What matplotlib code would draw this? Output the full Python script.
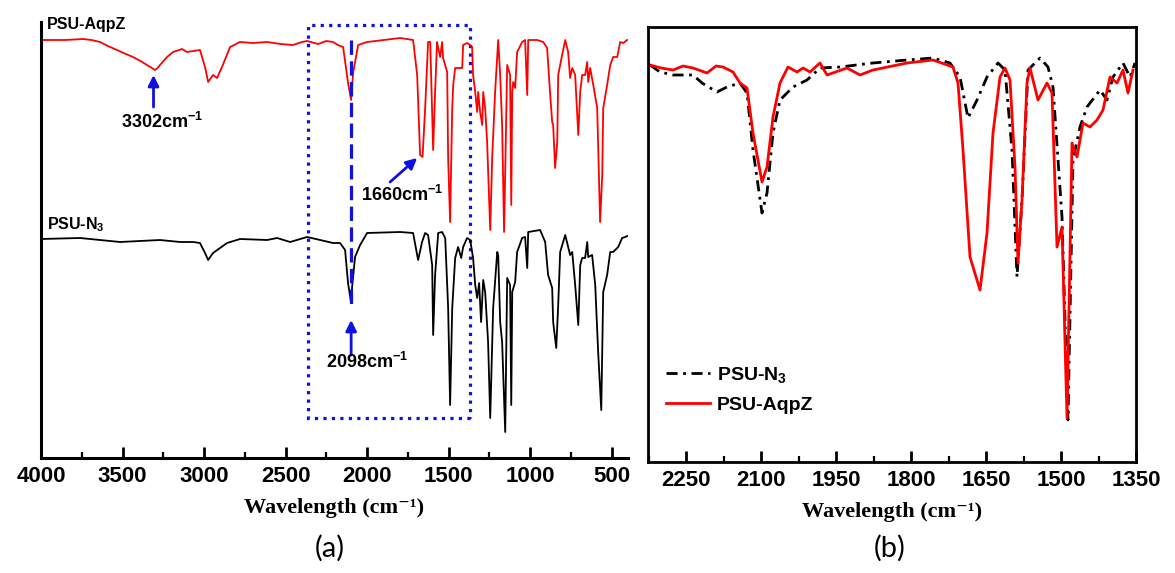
import matplotlib
matplotlib.use("Agg")
import matplotlib.pyplot as plt
from matplotlib.patches import Rectangle
from matplotlib.ticker import MultipleLocator

plt.rcParams['font.family'] = ['Liberation Sans', 'DejaVu Sans']
plt.rcParams['font.weight'] = 'bold'
plt.rcParams['mathtext.fontset'] = 'custom'
plt.rcParams['mathtext.rm'] = 'Liberation Sans:bold'
plt.rcParams['mathtext.bf'] = 'Liberation Sans:bold'
plt.rcParams['mathtext.it'] = 'Liberation Sans:bold:italic'

# ---- panel (a): full spectra, arbitrary transmittance units (AqpZ stacked above N3)
wn_aqpz_full = [4000, 3988, 3850, 3742, 3690, 3638, 3590, 3534, 3480, 3436, 3390, 3350, 3320, 3302, 3285,
                3270, 3227, 3190, 3135, 3104, 3025, 2994, 2975, 2945, 2920, 2890, 2840, 2780, 2700, 2613,
                2530, 2454, 2400, 2368, 2300, 2250, 2209, 2180, 2147, 2117, 2098, 2086, 2055, 2000, 1900,
                1797, 1718, 1693, 1675, 1660, 1644, 1626, 1613, 1595, 1583, 1571, 1564, 1552, 1540, 1534,
                1509, 1503, 1491, 1478, 1472, 1460, 1442, 1417, 1411, 1387, 1368, 1356, 1350, 1337, 1325,
                1319, 1307, 1294, 1288, 1276, 1264, 1245, 1233, 1215, 1196, 1184, 1172, 1160, 1141, 1123,
                1116, 1110, 1104, 1092, 1080, 1049, 1031, 1018, 1012, 957, 920, 896, 877, 865, 859,
                847, 834, 828, 804, 785, 767, 755, 742, 724, 705, 693, 681, 663, 650, 644,
                632, 613, 589, 571, 558, 552, 528, 509, 491, 466, 448, 429, 405]
t_aqpz_full = [418, 418, 418, 419, 418, 416, 412, 408, 404, 401, 397, 393, 390, 388, 390,
               393, 401, 406, 409, 406, 408, 391, 376, 383, 380, 391, 411, 416, 415, 416,
               414, 413, 416, 417, 414, 417, 416, 413, 411, 375, 358, 385, 413, 416, 418,
               420, 418, 383, 303, 301, 350, 416, 416, 308, 366, 416, 410, 401, 416, 400,
               386, 300, 236, 350, 373, 390, 390, 390, 413, 415, 413, 411, 383, 366, 346,
               366, 346, 333, 366, 350, 316, 228, 300, 366, 418, 383, 333, 226, 393, 383,
               253, 366, 376, 370, 406, 416, 418, 363, 418, 418, 416, 410, 363, 336, 333,
               290, 316, 383, 403, 418, 406, 380, 390, 383, 323, 366, 383, 383, 396, 376,
               390, 373, 350, 236, 283, 350, 373, 393, 401, 401, 416, 415, 418]

wn_n3_full = [4000, 3761, 3515, 3270, 3147, 3067, 3025, 2994, 2975, 2945, 2902, 2859, 2779, 2613, 2552,
              2472, 2368, 2288, 2209, 2166, 2135, 2117, 2098, 2092, 2074, 2043, 2000, 1797, 1718, 1693,
              1687, 1663, 1644, 1626, 1601, 1595, 1583, 1564, 1540, 1521, 1503, 1491, 1478, 1460, 1442,
              1423, 1411, 1387, 1368, 1350, 1337, 1325, 1313, 1301, 1288, 1276, 1258, 1245, 1227, 1202,
              1196, 1184, 1172, 1153, 1141, 1123, 1116, 1110, 1092, 1080, 1049, 1031, 1018, 1012, 939,
              908, 890, 865, 859, 840, 828, 816, 785, 755, 742, 724, 705, 693, 681, 663,
              650, 644, 620, 601, 583, 564, 552, 528, 509, 491, 460, 436, 417, 405]
t_n3_full = [219, 220, 216, 218, 216, 216, 215, 205, 198, 205, 210, 215, 219, 218, 220,
             216, 221, 218, 215, 215, 208, 175, 155, 171, 201, 213, 225, 226, 225, 203,
             198, 216, 225, 223, 193, 123, 183, 225, 226, 220, 150, 53, 150, 200, 211,
             200, 211, 220, 218, 200, 173, 160, 175, 136, 178, 166, 116, 40, 150, 206,
             203, 136, 116, 26, 180, 173, 53, 166, 176, 206, 220, 221, 190, 226, 228,
             216, 183, 170, 136, 110, 153, 206, 223, 203, 206, 173, 133, 193, 200, 200,
             216, 201, 203, 173, 106, 48, 166, 183, 206, 206, 211, 220, 221, 222]

# ---- panel (b): expanded 2325-1350 cm-1 region
wn_n3_zoom = [2322, 2302, 2276, 2236, 2218, 2188, 2168, 2142, 2128, 2116, 2098, 2088, 2076, 2062, 2036,
              2008, 1982, 1942, 1876, 1808, 1756, 1722, 1702, 1686, 1668, 1648, 1626, 1612, 1598, 1588,
              1578, 1566, 1542, 1526, 1516, 1498, 1486, 1476, 1462, 1448, 1422, 1408, 1396, 1376, 1362,
              1352]
t_n3_zoom = [397, 390, 387, 387, 379, 370, 375, 379, 369, 312, 249, 269, 329, 362, 375,
             382, 394, 395, 399, 402, 404, 399, 385, 344, 362, 385, 399, 392, 312, 185,
             262, 392, 404, 395, 375, 245, 42, 302, 335, 355, 372, 362, 385, 399, 385,
             399]

wn_aqpz_zoom = [2322, 2300, 2276, 2256, 2236, 2208, 2190, 2176, 2156, 2142, 2128, 2116, 2098, 2088, 2076,
                2062, 2046, 2028, 2016, 2002, 1982, 1968, 1928, 1902, 1876, 1808, 1756, 1716, 1706, 1696,
                1682, 1662, 1648, 1636, 1622, 1612, 1602, 1592, 1586, 1578, 1568, 1562, 1546, 1528, 1518,
                1508, 1498, 1488, 1478, 1468, 1456, 1442, 1428, 1416, 1402, 1388, 1376, 1366, 1356]
t_aqpz_zoom = [397, 394, 392, 396, 394, 389, 396, 395, 390, 379, 374, 329, 280, 295, 345,
               379, 395, 390, 394, 390, 399, 387, 394, 387, 392, 399, 402, 395, 379, 312,
               205, 172, 229, 329, 385, 394, 382, 295, 199, 262, 379, 394, 362, 379, 369,
               215, 235, 44, 319, 305, 339, 335, 342, 352, 385, 379, 392, 369, 392]

fig = plt.figure(figsize=(11.75, 5.73), dpi=100)

# ---------------- (a)
ax = fig.add_axes([41 / 1175, 115 / 573, 587 / 1175, 436 / 573])
ax.plot(wn_aqpz_full, t_aqpz_full, color='#ff0000', lw=1.3)
ax.plot(wn_n3_full, t_n3_full, color='black', lw=1.3)
ax.set_xlim(4000, 400)
ax.set_ylim(0, 436)
ax.set_yticks([])
for s in ['top', 'right']:
    ax.spines[s].set_visible(False)
for s in ['left', 'bottom']:
    ax.spines[s].set_linewidth(2.2)
ax.xaxis.set_major_locator(MultipleLocator(500))
ax.xaxis.set_minor_locator(MultipleLocator(250))
ax.tick_params(axis='x', which='major', direction='in', length=8, width=2, labelsize=16, pad=6)
ax.tick_params(axis='x', which='minor', direction='in', length=4, width=1.6)
ax.set_xlabel('Wavelength (cm⁻¹)', family=['Liberation Serif', 'DejaVu Serif'],
              fontsize=16, fontweight='bold', labelpad=8)

ax.text(3965, 433, 'PSU-AqpZ', fontsize=11.5, va='center', ha='left')
ax.text(3965, 233, r'PSU-N$_\mathregular{3}$', fontsize=11.5, va='center', ha='left')

# zoomed region box and the azide marker line
ax.add_patch(Rectangle((1368, 40), 994, 393, fill=False, ls=':', lw=2.3, ec='#1010e0'))
ax.plot([2098, 2098], [418, 150], color='#1010e0', lw=2.3, dashes=(4.5, 2))

arrow = dict(arrowstyle='-|>', color='#1010e0', lw=2, mutation_scale=16, shrinkA=0, shrinkB=0)
ax.annotate('', xy=(3310, 383), xytext=(3310, 351), arrowprops=arrow)
ax.text(3260, 336, r'3302cm$^{-1}$', fontsize=13, ha='center', va='center')
ax.annotate('', xy=(1693, 300), xytext=(1859, 276), arrowprops=arrow)
ax.text(1785, 263, r'1660cm$^{-1}$', fontsize=13, ha='center', va='center')
ax.annotate('', xy=(2098, 138), xytext=(2098, 103), arrowprops=arrow)
ax.text(2000, 96, r'2098cm$^{-1}$', fontsize=13, ha='center', va='center')

# ---------------- (b)
bx = fig.add_axes([648 / 1175, 111 / 573, 488 / 1175, 435 / 573])
bx.plot(wn_n3_zoom, t_n3_zoom, color='black', lw=2, dashes=(4, 2, 1, 2), label=r'PSU-N$_\mathregular{3}$')
bx.plot(wn_aqpz_zoom, t_aqpz_zoom, color='#ff0000', lw=2, label='PSU-AqpZ')
bx.set_xlim(2326, 1350)
bx.set_ylim(0, 435)
bx.set_yticks([])
for s in bx.spines.values():
    s.set_linewidth(2)
bx.xaxis.set_major_locator(MultipleLocator(150))
bx.xaxis.set_minor_locator(MultipleLocator(75))
bx.tick_params(axis='x', which='major', direction='in', length=8, width=2, labelsize=16, pad=6)
bx.tick_params(axis='x', which='minor', direction='in', length=4, width=1.6)
bx.set_xlabel('Wavelength (cm⁻¹)', family=['Liberation Serif', 'DejaVu Serif'],
              fontsize=16, fontweight='bold', labelpad=8)
bx.legend(loc='lower left', bbox_to_anchor=(0.0, 0.07), frameon=False, fontsize=14,
          handlelength=2.3, handletextpad=0.35, labelspacing=0.6)

fig.text(330 / 1175, 1 - 548 / 573, '(a)', family=['Lato', 'DejaVu Sans'], fontweight='normal',
         fontsize=21, ha='center', va='center')
fig.text(890 / 1175, 1 - 548 / 573, '(b)', family=['Lato', 'DejaVu Sans'], fontweight='normal',
         fontsize=21, ha='center', va='center')

fig.savefig('out.png', dpi=100)
